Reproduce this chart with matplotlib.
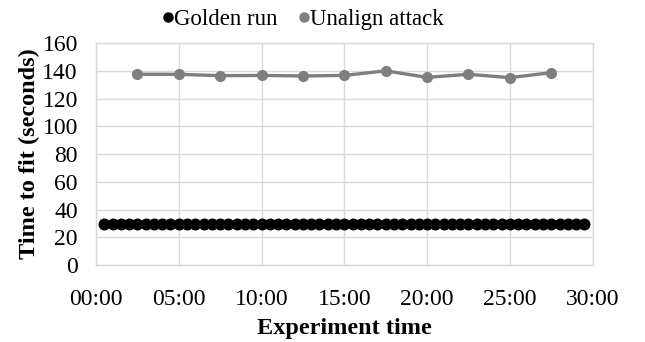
import matplotlib
matplotlib.use("Agg")
import matplotlib.pyplot as plt

plt.rcParams['font.family'] = ['Liberation Serif', 'DejaVu Serif']

# Golden run: sample times (mm:ss) and time to fit (s)
golden_times = ["00:30", "01:00", "01:30", "02:00", "02:30", "03:00", "03:30", "04:00",
                "04:30", "05:00", "05:30", "06:00", "06:30", "07:00", "07:30", "08:00",
                "08:30", "09:00", "09:30", "10:00", "10:30", "11:00", "11:30", "12:00",
                "12:30", "13:00", "13:30", "14:00", "14:30", "15:00", "15:30", "16:00",
                "16:30", "17:00", "17:30", "18:00", "18:30", "19:00", "19:30", "20:00",
                "20:30", "21:00", "21:30", "22:00", "22:30", "23:00", "23:30", "24:00",
                "24:30", "25:00", "25:30", "26:00", "26:30", "27:00", "27:30", "28:00",
                "28:30", "29:00", "29:30"]
golden_values = [29.6, 29.6, 29.5, 29.3, 29.4, 29.6, 29.5, 29.5, 29.6, 29.4,
                 29.6, 29.5, 29.5, 29.4, 29.6, 29.5, 29.5, 29.6, 29.4, 29.5,
                 29.6, 29.5, 29.6, 29.4, 29.6, 29.5, 29.5, 29.6, 29.5, 29.5,
                 29.5, 29.6, 29.5, 29.5, 29.6, 29.5, 29.4, 29.6, 29.5, 29.7,
                 29.6, 29.5, 29.6, 29.5, 29.4, 29.6, 29.5, 29.5, 29.6, 29.5,
                 29.6, 29.5, 29.5, 29.6, 29.5, 29.5, 29.6, 29.5, 29.6]

# Unalign attack
attack_times = ["02:30", "05:00", "07:30", "10:00", "12:30", "15:00",
                "17:30", "20:00", "22:30", "25:00", "27:30"]
attack_values = [137.5, 137.5, 136.5, 136.7, 136.3, 136.7,
                 140.0, 135.3, 137.5, 135.1, 138.7]

x_ticks = ["00:00", "05:00", "10:00", "15:00", "20:00", "25:00", "30:00"]
y_ticks = [0, 20, 40, 60, 80, 100, 120, 140, 160]


def to_min(s):
    m, sec = s.split(":")
    return int(m) + int(sec) / 60.0


fig = plt.figure(figsize=(6.45, 3.42), dpi=100)
ax = fig.add_axes([0.1488, 0.225, 0.770, 0.649])

gx = [to_min(t) for t in golden_times]
axx = [to_min(t) for t in attack_times]

ax.plot(gx, golden_values, color='black', marker='o', markersize=7.6,
        linewidth=2.2, label='Golden run', zorder=3)
ax.plot(axx, attack_values, color='#7f7f7f', marker='o', markersize=7.0,
        linewidth=2.4, label='Unalign attack', zorder=3)

xt = [to_min(t) for t in x_ticks]
ax.set_xlim(xt[0], xt[-1])
ax.set_xticks(xt)
ax.set_xticklabels(x_ticks)
ax.set_ylim(y_ticks[0], y_ticks[-1])
ax.set_yticks(y_ticks)

ax.grid(True, color='#d9d9d9', linewidth=1)
ax.set_axisbelow(True)
for s in ax.spines.values():
    s.set_color('#d9d9d9')
    s.set_linewidth(1)
ax.tick_params(length=0, labelsize=17)
ax.tick_params(axis='x', pad=17)
ax.tick_params(axis='y', pad=13)

ax.set_xlabel('Experiment time', fontsize=17.5, fontweight='bold', labelpad=6)
ax.set_ylabel('Time to fit (seconds)', fontsize=17.5, fontweight='bold', labelpad=2)

leg = fig.legend(handles=ax.get_lines(), labels=['Golden run', 'Unalign attack'],
                 loc='upper center', bbox_to_anchor=(0.47, 1.035), ncol=2, frameon=False,
                 fontsize=16.5, handlelength=0.5, handletextpad=0.0, columnspacing=0.9)
for h in leg.legend_handles:
    h.set_linestyle('none')
    h.set_markersize(6.5)

fig.savefig('out.png', dpi=100)
